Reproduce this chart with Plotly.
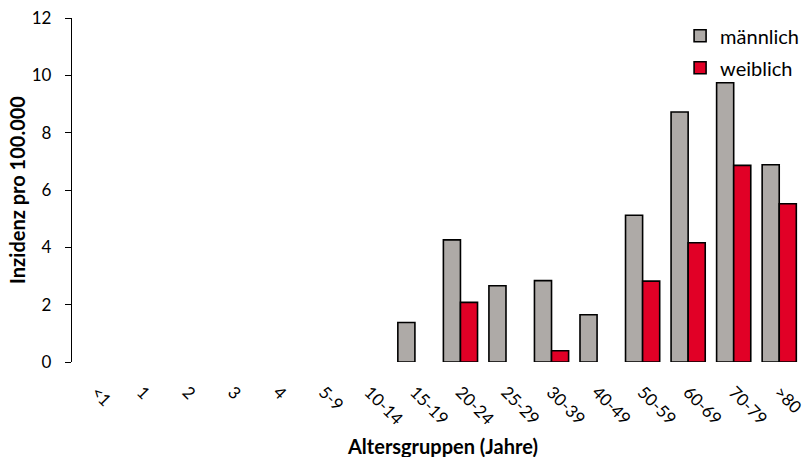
import plotly.graph_objects as go

categories = ["<1", "1", "2", "3", "4", "5-9", "10-14", "15-19", "20-24", "25-29",
              "30-39", "40-49", "50-59", "60-69", "70-79", ">80"]
maennlich = [None, None, None, None, None, None, None, 1.38, 4.26, 2.66, 2.84, 1.65, 5.12, 8.72, 9.74, 6.88]
weiblich = [None, None, None, None, None, None, None, None, 2.08, None, 0.39, None, 2.82, 4.16, 6.86, 5.52]

FONT = "Lato, 'Liberation Sans', sans-serif"

fig = go.Figure()
fig.add_trace(go.Bar(x=categories, y=maennlich, name="männlich", legendgroup="m",
                     marker=dict(color="#AEAAA7", line=dict(color="#000000", width=1.6))))
fig.add_trace(go.Bar(x=categories, y=weiblich, name="weiblich", legendgroup="w",
                     marker=dict(color="#E10026", line=dict(color="#000000", width=1.6))))

fig.update_layout(
    width=806, height=457,
    margin=dict(l=72, r=2, t=18, b=95),
    paper_bgcolor="white", plot_bgcolor="white",
    font=dict(family=FONT, size=17, color="#000000"),
    barmode="group", bargap=0.25, bargroupgap=0,
    showlegend=True,
    legend=dict(x=0.833, y=1.005, xanchor="left", yanchor="top",
                font=dict(size=20), tracegroupgap=3, bgcolor="rgba(0,0,0,0)",
                itemwidth=30),
    xaxis=dict(tickangle=45, showline=False, ticks="", tickfont=dict(size=17),
               ticklabelstandoff=16, categoryorder="array", categoryarray=categories,
               range=[-0.53, 15.5], automargin=False),
    yaxis=dict(range=[0, 12], dtick=2, showgrid=False, zeroline=False,
               showline=True, linecolor="#000000", linewidth=1.3,
               ticks="outside", ticklen=6, tickcolor="#000000", tickwidth=1.3,
               tickfont=dict(size=17), ticklabelstandoff=10, automargin=False,
               title=dict(text="<b>Inzidenz pro 100.000</b>", font=dict(size=20), standoff=0)),
    annotations=[dict(text="<b>Altersgruppen (Jahre)</b>", xref="paper", yref="paper",
                      x=0.507, y=-0.245, xanchor="center", yanchor="middle",
                      showarrow=False, font=dict(size=20))],
)

fig.write_html("out.html", config={"displayModeBar": False},
               post_script="document.body.style.margin='0';")
